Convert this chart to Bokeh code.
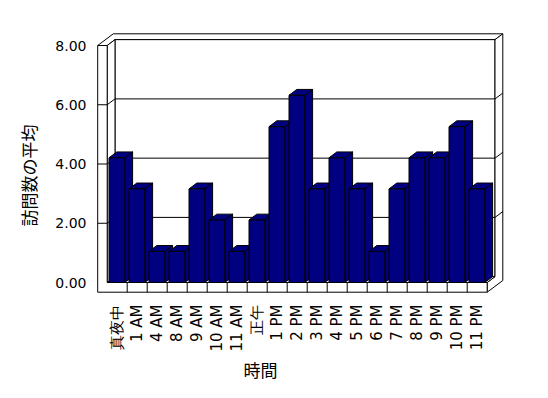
import math
from bokeh.plotting import figure
from bokeh.models import Range1d, LinearAxis, FixedTicker, Title, NumeralTickFormatter
from bokeh.embed import file_html
from bokeh.resources import INLINE

# ---- data ----
categories = ["真夜中", "1 AM", "4 AM", "8 AM", "9 AM", "10 AM", "11 AM", "正午",
              "1 PM", "2 PM", "3 PM", "4 PM", "5 PM", "6 PM", "7 PM", "8 PM",
              "9 PM", "10 PM", "11 PM"]
averages = [4.21, 3.16, 1.05, 1.05, 3.16, 2.11, 1.05, 2.11, 5.26, 6.32,
            3.16, 4.21, 3.16, 1.05, 3.16, 4.21, 4.21, 5.26, 3.16]
y_ticks = [0, 2, 4, 6, 8]
x_title = "時間"
y_title = "訪問数の平均"

# ---- 3D projection settings ----
N = len(categories)
VMAX = y_ticks[-1]
DX, DY = 0.39, 0.1975   # shift per depth unit (x units, value units)
T = 0.475               # left wall thickness
TH = 0.327              # floor thickness
BAR0, BAR1 = 0.09, 0.88 # bar front face within a category slot
NAVY = "#000080"


def P(pts):
    xs = [x + z * DX for (x, v, z) in pts]
    ys = [v + z * DY for (x, v, z) in pts]
    return xs, ys


p = figure(width=532, height=382,
           x_range=Range1d(-0.735, 20.065), y_range=Range1d(-0.405, 8.574),
           output_backend="svg", toolbar_location=None,
           x_axis_type=None, y_axis_type=None,
           min_border_left=92, min_border_right=24,
           min_border_top=28, min_border_bottom=88)
p.grid.visible = False
p.outline_line_color = None
p.background_fill_color = "white"
p.border_fill_color = "white"

walls = [
    # top of left + back wall (L shape)
    [(-T, VMAX, 0), (0, VMAX, 0), (0, VMAX, 1), (N, VMAX, 1), (N, VMAX, 2), (-T, VMAX, 2)],
    # back wall inner face
    [(0, 0, 1), (N, 0, 1), (N, VMAX, 1), (0, VMAX, 1)],
    # left wall inner face
    [(0, 0, 0), (0, 0, 1), (0, VMAX, 1), (0, VMAX, 0)],
    # right side of back wall + floor
    [(N, 0, 0), (N, 0, 1), (N, VMAX, 1), (N, VMAX, 2), (N, -TH, 2), (N, -TH, 0)],
    # floor top
    [(0, 0, 0), (N, 0, 0), (N, 0, 1), (0, 0, 1)],
]
wx, wy = zip(*[P(w) for w in walls])
p.patches(list(wx), list(wy), fill_color="white", line_color="black", line_width=1)

# gridlines
gx, gy = [], []
for v in y_ticks[1:-1]:
    for seg in ([(0, v, 1), (N, v, 1)], [(0, v, 0), (0, v, 1)], [(N, v, 1), (N, v, 2)]):
        sx, sy = P(seg)
        gx.append(sx)
        gy.append(sy)
p.multi_line(gx, gy, line_color="black", line_width=1)

# bars (side, top, front for each, left to right)
bx, by = [], []
for i, h in enumerate(averages):
    b0, b1 = i + BAR0, i + BAR1
    for face in ([(b1, 0, 0), (b1, 0, 1), (b1, h, 1), (b1, h, 0)],
                 [(b0, h, 0), (b1, h, 0), (b1, h, 1), (b0, h, 1)],
                 [(b0, 0, 0), (b1, 0, 0), (b1, h, 0), (b0, h, 0)]):
        sx, sy = P(face)
        bx.append(sx)
        by.append(sy)
p.patches(bx, by, fill_color=NAVY, line_color="black", line_width=1)

# front face of left wall + floor
fx, fy = P([(-T, VMAX, 0), (0, VMAX, 0), (0, 0, 0), (N, 0, 0), (N, -TH, 0), (-T, -TH, 0)])
p.patch(fx, fy, fill_color="white", line_color="black", line_width=1)

# tick marks on front faces
tx, ty = [], []
for v in y_ticks[1:-1]:
    sx, sy = P([(-T, v, 0), (0, v, 0)])
    tx.append(sx)
    ty.append(sy)
for k in range(1, N):
    sx, sy = P([(k, 0, 0), (k, -TH, 0)])
    tx.append(sx)
    ty.append(sy)
p.multi_line(tx, ty, line_color="black", line_width=1)

# axes
yaxis = LinearAxis(ticker=FixedTicker(ticks=y_ticks),
                   formatter=NumeralTickFormatter(format="0.00"),
                   axis_line_color=None, major_tick_line_color=None,
                   minor_tick_line_color=None, major_label_standoff=0,
                   major_label_text_font="DejaVu Sans",
                   major_label_text_font_size="14px",
                   major_label_text_color="black")
p.add_layout(yaxis, "left")

centers = [i + 0.5 for i in range(N)]
xaxis = LinearAxis(ticker=FixedTicker(ticks=centers),
                   major_label_overrides={c: lab for c, lab in zip(centers, categories)},
                   major_label_orientation=math.pi / 2,
                   axis_line_color=None, major_tick_line_color=None,
                   minor_tick_line_color=None, major_label_standoff=4,
                   major_label_text_font="DejaVu Sans",
                   major_label_text_font_size="15px",
                   major_label_text_color="black")
p.add_layout(xaxis, "below")

p.add_layout(Title(text=y_title, align="left", offset=68, standoff=24,
                   text_font="Noto Sans CJK JP", text_font_size="17px",
                   text_font_style="normal", text_color="black"), "left")
p.add_layout(Title(text=x_title, align="left", offset=151, standoff=0,
                   text_font="Noto Sans CJK JP", text_font_size="17px",
                   text_font_style="normal", text_color="black"), "below")

open("out.html", "w").write(file_html(p, INLINE))
